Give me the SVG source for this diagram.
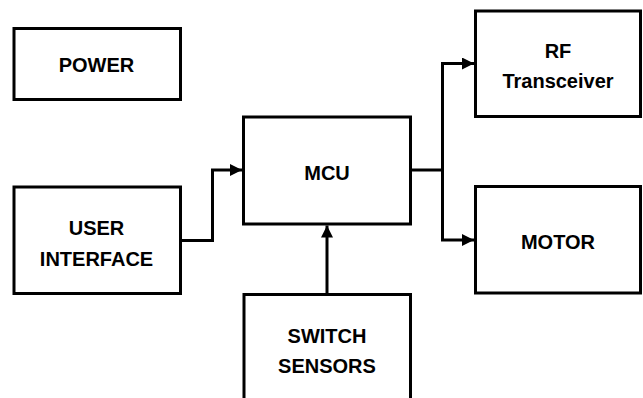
<svg xmlns="http://www.w3.org/2000/svg" width="643" height="398" viewBox="0 0 643 398">
  <style>
    .box { fill: #ffffff; stroke: #000000; stroke-width: 3; }
    .lbl { font-family: "Liberation Sans", Arial, sans-serif; font-weight: bold; font-size: 20px; fill: #000000; text-anchor: middle; }
    .wire { fill: none; stroke: #000000; stroke-width: 3; stroke-linejoin: miter; }
  </style>
  <defs>
    <marker id="arrow" markerUnits="userSpaceOnUse" markerWidth="12" markerHeight="12" viewBox="0 0 10 10" refX="10" refY="5" orient="auto">
      <path d="M0,0 L10,5 L0,10 Z" fill="#000000"/>
    </marker>
  </defs>
  <rect width="643" height="398" fill="#ffffff"/>

  <g id="power">
    <rect class="box" x="14" y="28.5" width="166.5" height="71"/>
    <text class="lbl" x="96.5" y="72">POWER</text>
  </g>
  <g id="user-interface">
    <rect class="box" x="14" y="187" width="166.5" height="106.5"/>
    <text class="lbl" x="96.5" y="235">USER</text>
    <text class="lbl" x="96.5" y="265.5">INTERFACE</text>
  </g>
  <g id="mcu">
    <rect class="box" x="243.5" y="117" width="167" height="107"/>
    <text class="lbl" x="327" y="180">MCU</text>
  </g>
  <g id="rf-transceiver">
    <rect class="box" x="475.5" y="11" width="165" height="105.5"/>
    <text class="lbl" x="558" y="58">RF</text>
    <text class="lbl" x="558" y="88">Transceiver</text>
  </g>
  <g id="motor">
    <rect class="box" x="475.5" y="186.5" width="165" height="106.5"/>
    <text class="lbl" x="558" y="249">MOTOR</text>
  </g>
  <g id="switch-sensors">
    <rect class="box" x="244" y="294.5" width="166.5" height="110"/>
    <text class="lbl" x="327" y="342.5">SWITCH</text>
    <text class="lbl" x="327" y="372.5">SENSORS</text>
  </g>

  <g id="connectors">
    <path class="wire" d="M180.5,240.5 H212.5 V170 H242" marker-end="url(#arrow)"/>
    <path class="wire" d="M410.5,170 H442.5 V63.5 H474" marker-end="url(#arrow)"/>
    <path class="wire" d="M442.5,170 V240 H474" marker-end="url(#arrow)"/>
    <path class="wire" d="M327,294.5 V225.5" marker-end="url(#arrow)"/>
  </g>
</svg>
